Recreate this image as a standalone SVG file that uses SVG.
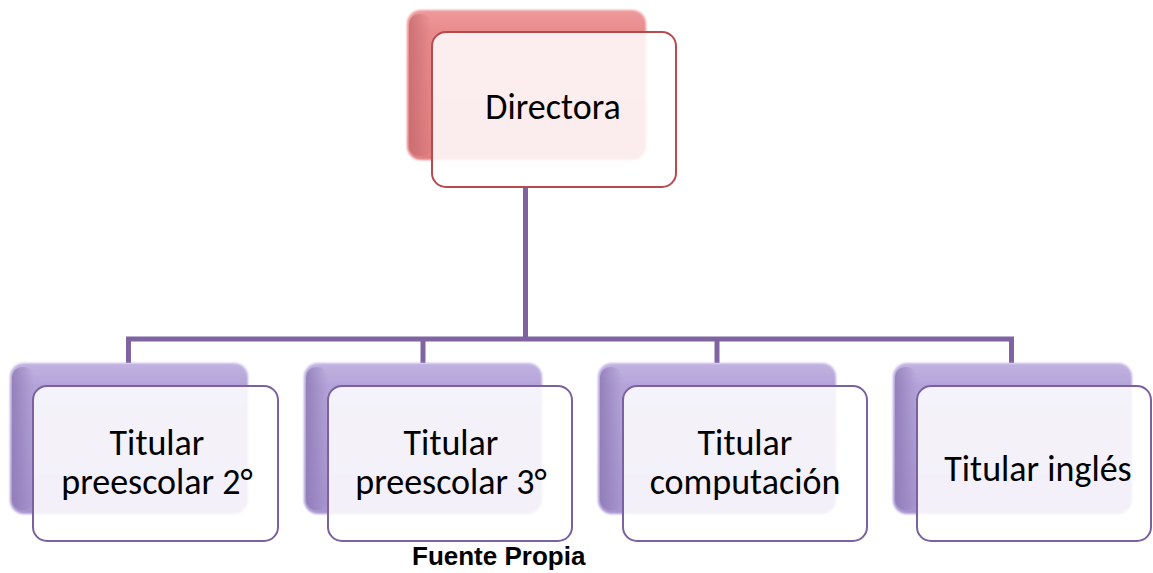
<svg xmlns="http://www.w3.org/2000/svg" width="1153" height="573" viewBox="0 0 1153 573">
<defs>
<linearGradient id="gRed" x1="0" y1="0" x2="0" y2="1">
<stop offset="0" stop-color="#EE9A9C"/>
<stop offset="0.15" stop-color="#E98A8D"/>
<stop offset="1" stop-color="#E07E81"/>
</linearGradient>
<linearGradient id="gRedSide" x1="0" y1="0" x2="1" y2="0">
<stop offset="0" stop-color="#C46A6D" stop-opacity="0.8"/>
<stop offset="1" stop-color="#C46A6D" stop-opacity="0"/>
</linearGradient>
<linearGradient id="gPur" x1="0" y1="0" x2="0" y2="1">
<stop offset="0" stop-color="#C2B3E2"/>
<stop offset="0.15" stop-color="#B4A3D8"/>
<stop offset="1" stop-color="#A794CF"/>
</linearGradient>
<linearGradient id="gPurSide" x1="0" y1="0" x2="1" y2="0">
<stop offset="0" stop-color="#8C78B4" stop-opacity="0.8"/>
<stop offset="1" stop-color="#8C78B4" stop-opacity="0"/>
</linearGradient>
<filter id="soft" x="-5%" y="-5%" width="110%" height="110%">
<feGaussianBlur stdDeviation="1.2"/>
</filter>
</defs>
<style>
.backR{fill:url(#gRed);filter:url(#soft)}
.sideR{fill:url(#gRedSide)}
.frontR{fill:#FFFFFF;fill-opacity:0.86;stroke:#B84A4E;stroke-width:2}
.backP{fill:url(#gPur);filter:url(#soft)}
.sideP{fill:url(#gPurSide)}
.frontP{fill:#FFFFFF;fill-opacity:0.86;stroke:#7B61A0;stroke-width:2}
.lbl{font-family:Carlito,Lato,"Liberation Sans",sans-serif;font-size:36px;fill:#000;text-anchor:middle}
.src{font-family:"Liberation Sans",Arial,sans-serif;font-weight:bold;font-size:26px;fill:#000}
.conn{fill:none;stroke:#8064A2;stroke-width:5}
</style>
<g id="connectors">
<path class="conn" d="M525.5 187 V339"/>
<path class="conn" d="M128.5 363 V339 H1011.5 V363"/>
<path class="conn" d="M423 339 V363"/>
<path class="conn" d="M717 339 V363"/>
</g>
<g id="directora">
<rect class="backR" x="407" y="10" width="239" height="150" rx="14"/>
<rect class="sideR" x="409" y="14" width="22" height="142" rx="10"/>
<rect class="frontR" x="432" y="32" width="244" height="155" rx="14"/>
<text class="lbl" x="553" y="119">Directora</text>
</g>
<g id="titular-preescolar-2">
<rect class="backP" x="10" y="363" width="238" height="151" rx="14"/>
<rect class="sideP" x="12" y="367" width="22" height="143" rx="10"/>
<rect class="frontP" x="33" y="386" width="245" height="155" rx="14"/>
<text class="lbl" x="157" y="455">Titular</text>
<text class="lbl" x="157" y="494">preescolar 2°</text>
</g>
<g id="titular-preescolar-3">
<rect class="backP" x="304" y="363" width="238" height="151" rx="14"/>
<rect class="sideP" x="306" y="367" width="22" height="143" rx="10"/>
<rect class="frontP" x="328" y="386" width="244" height="155" rx="14"/>
<text class="lbl" x="451" y="455">Titular</text>
<text class="lbl" x="451" y="494">preescolar 3°</text>
</g>
<g id="titular-computacion">
<rect class="backP" x="598" y="363" width="238" height="151" rx="14"/>
<rect class="sideP" x="600" y="367" width="22" height="143" rx="10"/>
<rect class="frontP" x="623" y="386" width="244" height="155" rx="14"/>
<text class="lbl" x="745" y="455">Titular</text>
<text class="lbl" x="745" y="494">computación</text>
</g>
<g id="titular-ingles">
<rect class="backP" x="893" y="363" width="239" height="151" rx="14"/>
<rect class="sideP" x="895" y="367" width="22" height="143" rx="10"/>
<rect class="frontP" x="917" y="386" width="234" height="155" rx="14"/>
<text class="lbl" x="1038" y="481">Titular inglés</text>
</g>
<text class="src" x="412" y="565">Fuente Propia</text>
</svg>
